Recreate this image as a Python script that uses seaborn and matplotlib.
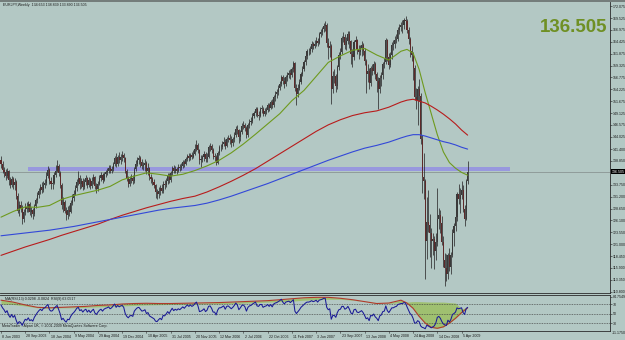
import numpy as np
import pandas as pd
import matplotlib
matplotlib.use("Agg")
import matplotlib.pyplot as plt
import matplotlib.transforms as mtransforms
from matplotlib.patches import Rectangle
from matplotlib.lines import Line2D
import seaborn as sns

# ---------------- data (EURJPY weekly, 8 Jun 2003 .. 3 May 2009) ----------------
closes = [
    138.2, 137.0, 136.5, 135.6, 136.6, 134.8, 133.8, 135.0, 133.6, 134.4,
    131.4, 128.2, 129.4, 128.8, 126.4, 127.8, 129.0, 128.5, 129.6, 127.9,
    128.3, 127.5, 129.2, 130.4, 131.5, 132.4, 133.2, 132.6, 133.8, 134.1,
    135.6, 136.9, 134.6, 133.9, 134.2, 135.8, 136.8, 137.8, 136.2, 133.8,
    129.4, 130.0, 128.2, 127.2, 128.4, 128.0, 129.8, 130.9, 131.8, 133.0,
    134.4, 135.2, 133.9, 134.5, 133.2, 134.3, 135.1, 133.6, 134.8, 133.5,
    134.6, 135.4, 133.5, 132.8, 134.0, 135.2, 135.8, 134.8, 136.0, 136.4,
    136.8, 137.4, 136.7, 137.2, 138.2, 139.4, 138.2, 139.6, 139.0, 139.8,
    140.1, 139.4, 136.8, 135.2, 134.0, 135.0, 135.2, 134.6, 137.2, 138.3,
    139.0, 139.4, 138.6, 137.7, 137.9, 138.5, 136.8, 137.3, 135.4, 134.9,
    134.3, 133.6, 132.2, 131.8, 132.5, 133.0, 132.4, 134.0, 133.8, 134.6,
    135.6, 134.8, 136.2, 137.4, 136.6, 137.2, 136.8, 137.6, 137.3, 137.8,
    138.6, 138.2, 139.2, 139.9, 139.5, 140.2, 139.8, 140.4, 141.5, 142.3,
    141.2, 139.0, 139.2, 139.6, 140.4, 139.2, 139.8, 141.8, 142.0, 141.3,
    139.8, 139.7, 138.5, 140.5, 141.8, 141.9, 142.6, 143.0, 142.0, 143.5,
    143.7, 143.3, 142.8, 143.5, 144.4, 145.8, 145.4, 143.9, 145.0, 146.4,
    146.6, 146.0, 144.5, 146.5, 147.2, 147.5, 148.6, 149.1, 150.0, 148.8,
    148.6, 150.0, 150.0, 149.0, 149.5, 149.8, 150.8, 150.2, 151.5, 150.8,
    152.5, 153.2, 153.6, 154.6, 155.4, 156.8, 156.0, 155.4, 156.8, 157.2,
    157.7, 157.3, 158.5, 159.8, 154.5, 153.2, 154.5, 155.8, 157.5, 158.6,
    160.0, 161.4, 162.4, 162.4, 162.8, 163.9, 163.6, 164.0, 164.7, 164.2,
    166.0, 166.5, 167.1, 167.9, 168.0, 164.2, 163.0, 163.5, 154.4, 157.0,
    157.0, 155.0, 159.0, 161.7, 162.3, 165.2, 165.5, 163.7, 164.6, 166.2,
    164.5, 161.8, 161.2, 164.3, 164.8, 162.8, 162.3, 163.0, 163.7, 162.5,
    160.3, 157.6, 158.1, 155.5, 158.8, 158.2, 159.7, 157.5, 156.0, 154.2,
    156.6, 157.2, 159.6, 160.0, 164.8, 161.1, 159.5, 161.5, 163.8, 163.9,
    164.9, 165.1, 167.0, 167.5, 168.0, 168.0, 169.0, 168.9, 167.0, 165.0,
    162.5, 161.5, 158.9, 152.5, 152.0, 154.2, 152.8, 143.5, 135.5, 134.5,
    121.6, 125.8, 125.2, 123.5, 121.6, 122.2, 119.5, 121.4, 126.4, 127.2,
    125.6, 121.5, 117.7, 115.9, 114.6, 118.6, 116.0, 118.7, 123.5, 124.8,
    126.8, 131.8, 130.8, 131.6, 132.6, 128.5, 126.5, 134.65, 136.505]
highs = [
    140.0, 138.8, 137.6, 137.2, 137.3, 137.0, 135.5, 135.7, 135.4, 135.3,
    134.8, 131.9, 130.3, 130.2, 129.4, 128.6, 129.8, 130.1, 130.3, 130.0,
    129.0, 128.8, 129.7, 130.9, 132.2, 133.0, 134.0, 134.3, 134.6, 135.0,
    136.5, 137.7, 137.3, 135.4, 135.0, 136.4, 138.0, 139.1, 138.3, 136.8,
    134.2, 131.1, 130.5, 128.9, 129.1, 129.3, 130.4, 131.7, 132.6, 133.7,
    135.0, 136.6, 135.8, 135.3, 135.1, 134.9, 135.8, 135.5, 135.4, 135.1,
    135.4, 136.1, 135.7, 134.2, 134.6, 135.8, 136.5, 136.2, 136.5, 137.0,
    137.4, 138.0, 137.9, 137.8, 138.7, 140.0, 140.6, 140.2, 140.7, 140.3,
    141.1, 140.6, 139.7, 137.1, 135.7, 135.6, 136.0, 135.8, 137.6, 139.0,
    139.7, 140.1, 139.9, 139.2, 138.6, 139.2, 138.9, 138.4, 137.5, 136.1,
    135.5, 135.0, 134.0, 132.9, 133.3, 133.6, 134.0, 134.6, 134.8, 135.3,
    136.2, 136.2, 136.6, 137.7, 137.9, 137.8, 137.5, 138.1, 138.3, 138.4,
    139.0, 139.0, 139.6, 140.3, 140.5, 140.6, 140.7, 141.2, 142.4, 143.3,
    142.7, 141.4, 140.1, 140.2, 141.0, 140.8, 140.5, 142.2, 142.8, 142.5,
    141.7, 140.6, 140.1, 141.0, 142.3, 142.6, 143.2, 143.9, 143.5, 144.0,
    144.5, 144.6, 144.2, 144.1, 145.0, 146.4, 146.6, 145.8, 145.6, 146.9,
    147.4, 147.0, 146.4, 147.0, 147.8, 148.2, 149.1, 149.6, 150.5, 150.4,
    149.5, 150.4, 150.8, 150.4, 150.2, 150.4, 151.3, 151.2, 152.0, 152.1,
    153.0, 153.8, 154.2, 155.2, 156.0, 157.3, 157.2, 156.8, 157.3, 157.9,
    158.4, 158.5, 159.0, 160.3, 160.2, 155.4, 155.3, 156.4, 158.0, 159.2,
    160.6, 161.9, 162.9, 163.2, 163.6, 164.5, 164.4, 164.8, 165.4, 165.3,
    166.6, 167.2, 167.7, 168.5, 168.9, 168.4, 165.2, 164.6, 163.9, 158.2,
    158.5, 157.6, 159.5, 162.2, 163.2, 165.7, 166.6, 166.0, 165.4, 166.8,
    166.8, 164.9, 162.8, 164.9, 165.6, 165.0, 163.8, 163.8, 164.5, 164.2,
    163.0, 160.8, 159.6, 158.8, 159.2, 159.6, 160.3, 160.0, 158.0, 156.8,
    157.4, 157.9, 160.2, 161.0, 165.2, 165.1, 162.0, 162.2, 164.3, 164.8,
    165.6, 166.0, 167.6, 168.2, 168.7, 169.0, 169.6, 170.0, 169.3, 167.5,
    165.4, 163.6, 162.3, 159.4, 154.6, 155.0, 156.4, 153.4, 144.4, 140.5,
    135.0, 131.2, 132.6, 127.4, 124.4, 123.4, 122.8, 123.4, 133.0, 128.8,
    128.4, 127.0, 122.8, 119.2, 118.8, 119.2, 120.2, 119.4, 124.2, 125.6,
    128.0, 132.2, 134.0, 133.0, 134.6, 133.6, 129.4, 135.0, 138.839]
lows = [
    137.4, 136.3, 135.5, 134.8, 135.1, 133.8, 133.0, 133.2, 132.9, 132.7,
    130.8, 127.6, 127.1, 128.0, 125.4, 125.8, 127.2, 127.9, 128.0, 127.3,
    126.8, 126.3, 127.1, 128.7, 129.9, 131.0, 131.7, 132.0, 132.3, 133.1,
    133.8, 135.2, 134.0, 132.8, 132.9, 133.9, 135.4, 136.4, 135.6, 133.0,
    128.6, 127.9, 127.6, 126.1, 126.5, 127.0, 127.6, 129.3, 130.2, 131.5,
    132.4, 133.8, 132.8, 133.1, 132.7, 132.8, 133.7, 133.0, 133.2, 132.9,
    133.0, 134.0, 132.9, 132.0, 132.4, 133.6, 134.6, 134.2, 134.5, 135.4,
    135.8, 136.3, 136.2, 136.2, 136.8, 137.8, 137.6, 137.8, 138.4, 138.1,
    138.9, 138.6, 136.2, 134.6, 133.2, 133.4, 134.1, 133.9, 134.2, 136.6,
    137.8, 138.2, 137.6, 137.1, 136.9, 136.8, 136.0, 135.9, 134.8, 134.1,
    133.7, 133.0, 131.0, 130.8, 131.0, 131.6, 131.9, 132.0, 132.9, 133.2,
    134.0, 134.1, 134.4, 135.9, 136.2, 136.3, 136.0, 136.5, 136.8, 136.9,
    137.4, 137.6, 137.9, 138.9, 138.9, 139.0, 139.2, 139.5, 140.2, 141.0,
    140.5, 138.2, 137.6, 138.6, 138.9, 138.6, 138.7, 139.5, 141.0, 140.6,
    139.2, 138.9, 137.9, 138.2, 140.1, 141.0, 141.5, 142.0, 141.4, 141.8,
    142.9, 142.6, 141.9, 142.0, 143.0, 144.0, 144.6, 142.8, 143.2, 144.6,
    145.8, 145.2, 143.8, 144.1, 146.0, 146.6, 147.0, 148.0, 148.6, 148.2,
    147.6, 148.2, 149.2, 148.4, 148.6, 148.9, 149.4, 149.5, 149.9, 150.2,
    150.4, 151.8, 152.4, 153.0, 154.1, 155.0, 155.3, 154.5, 155.0, 156.0,
    156.6, 156.4, 156.9, 158.0, 153.8, 150.9, 152.5, 154.0, 155.3, 157.0,
    158.2, 159.5, 160.8, 161.6, 161.8, 162.3, 162.8, 163.0, 163.6, 163.5,
    163.9, 165.5, 165.9, 166.6, 166.8, 163.4, 160.8, 161.2, 151.0, 153.4,
    155.6, 153.6, 154.4, 158.3, 160.8, 161.8, 164.4, 162.8, 162.6, 164.0,
    163.2, 159.6, 159.0, 160.6, 163.4, 161.9, 160.8, 161.6, 161.4, 161.5,
    159.4, 153.4, 155.8, 154.3, 154.9, 157.2, 157.6, 156.4, 153.6, 150.0,
    153.4, 154.9, 156.4, 158.8, 159.6, 160.4, 158.6, 159.1, 160.8, 162.6,
    163.2, 164.1, 164.7, 166.2, 166.8, 166.4, 167.2, 167.6, 166.3, 163.9,
    161.2, 160.4, 156.3, 152.0, 150.0, 146.5, 151.8, 142.6, 132.0, 130.6,
    113.6, 117.8, 123.6, 118.2, 115.8, 118.6, 115.7, 117.6, 120.6, 124.2,
    123.4, 120.8, 116.0, 112.1, 113.2, 113.6, 115.2, 114.6, 118.2, 120.6,
    123.8, 125.9, 129.6, 127.6, 130.8, 127.8, 124.9, 126.2, 133.890]
first_open = 139.0

# moving averages read at sample bars
ma_idx = [0, 8, 16, 24, 32, 40, 48, 56, 64, 72, 80, 88, 96, 104, 112, 120, 128,
          136, 144, 152, 160, 168, 176, 184, 192, 200, 208, 216, 224, 232, 240,
          248, 256, 264, 268, 272, 276, 280, 284, 288, 292, 296, 300, 304, 308]
ma_green = [126.8, 128.0, 129.0, 128.9, 129.3, 130.6, 131.4, 132.0, 132.6, 133.4,
            134.8, 135.6, 136.3, 136.0, 135.6, 136.0, 136.8, 137.8, 139.0, 140.6,
            142.5, 144.6, 146.8, 149.0, 151.8, 154.0, 157.0, 160.0, 161.4, 162.6,
            163.0, 161.6, 160.5, 162.4, 162.8, 162.0, 158.5, 153.5, 149.0, 144.5,
            140.8, 138.5, 137.3, 136.4, 135.8]
ma_red = [118.6, 119.5, 120.4, 121.2, 122.0, 122.9, 123.7, 124.5, 125.3, 126.3,
          127.2, 128.0, 128.8, 129.5, 130.2, 130.8, 131.3, 132.2, 133.3, 134.5,
          135.8, 137.2, 138.8, 140.4, 142.0, 143.6, 145.2, 146.6, 147.7, 148.6,
          149.2, 149.6, 150.4, 151.5, 151.9, 152.1, 151.7, 151.3, 150.6, 149.8,
          148.9, 147.9, 146.8, 145.5, 144.4]
ma_blue = [122.8, 123.1, 123.4, 123.7, 124.0, 124.4, 124.8, 125.3, 125.8, 126.3,
           126.8, 127.3, 127.8, 128.3, 128.7, 129.0, 129.3, 129.8, 130.5, 131.3,
           132.2, 133.1, 134.0, 135.0, 136.0, 137.0, 138.0, 139.0, 139.9, 140.8,
           141.6, 142.2, 142.9, 143.8, 144.2, 144.5, 144.5, 144.2, 143.8, 143.4,
           143.0, 142.7, 142.3, 141.8, 141.4]

rsi = [
    68, 62, 58, 52, 56, 47, 42, 48, 42, 46,
    36, 28, 33, 31, 25, 32, 38, 36, 41, 35,
    37, 34, 42, 47, 52, 56, 59, 56, 61, 62,
    66, 69, 58, 55, 56, 61, 64, 67, 59, 50,
    37, 40, 35, 32, 38, 37, 44, 49, 52, 56,
    61, 63, 56, 58, 53, 57, 59, 53, 57, 52,
    56, 59, 51, 48, 53, 57, 59, 55, 59, 61,
    62, 64, 60, 62, 66, 70, 63, 67, 64, 66,
    67, 63, 50, 44, 41, 45, 46, 44, 55, 59,
    62, 63, 59, 55, 56, 58, 50, 52, 45, 43,
    41, 39, 34, 33, 37, 40, 37, 46, 45, 49,
    54, 50, 56, 61, 56, 59, 57, 60, 58, 61,
    64, 61, 65, 68, 65, 68, 65, 67, 71, 74,
    66, 54, 55, 57, 60, 54, 57, 65, 66, 61,
    53, 53, 47, 57, 62, 62, 64, 66, 59, 65,
    66, 63, 60, 63, 67, 72, 68, 58, 62, 67,
    68, 64, 55, 63, 66, 67, 70, 72, 74, 66,
    65, 69, 69, 63, 65, 66, 69, 65, 69, 64,
    70, 72, 73, 75, 77, 80, 74, 70, 74, 75,
    76, 73, 76, 79, 55, 50, 54, 58, 63, 66,
    69, 72, 74, 74, 75, 77, 75, 76, 78, 74,
    78, 79, 80, 82, 82, 63, 58, 60, 38, 46,
    46, 42, 52, 58, 59, 65, 65, 59, 61, 65,
    59, 51, 49, 58, 59, 53, 52, 54, 56, 52,
    46, 39, 41, 35, 46, 45, 49, 43, 40, 35,
    45, 47, 54, 55, 66, 56, 52, 57, 62, 62,
    64, 65, 69, 70, 71, 71, 73, 72, 64, 57,
    50, 47, 40, 30, 30, 35, 33, 24, 21, 20,
    18, 25, 24, 22, 20, 22, 24, 30, 42, 44,
    40, 33, 28, 26, 25, 36, 32, 38, 48, 50,
    53, 62, 60, 61, 62, 52, 48, 60, 63]
sig_idx = [0, 8, 16, 24, 32, 40, 48, 56, 64, 72, 80, 88, 96, 104, 112, 120, 128,
           136, 144, 152, 160, 168, 176, 184, 192, 200, 208, 216, 224, 232, 240,
           248, 256, 264, 268, 272, 276, 280, 284, 288, 292, 296, 300, 304, 308]
sig_red = [78, 74, 68, 63, 62, 63, 64, 65, 67, 68, 70, 71, 71.5, 71, 71, 71.5, 72,
           72.5, 73, 74, 75, 76, 77, 79, 81, 83, 84, 84, 82, 79, 75, 71, 72, 78,
           72, 61, 44, 30, 21, 19, 22, 30, 40, 52, 62]
sig_slow = [70, 69, 66, 62, 61, 62, 62, 63, 64, 65, 66, 67, 68, 68.5, 69, 69, 69.5,
            70, 70.5, 71, 72, 73, 74, 75, 76, 78, 79, 80, 80, 78, 75, 72, 71, 73,
            74, 75, 75, 74.5, 74, 74, 74, 73, 72, 60, 62]

price_ticks = [110.800, 113.350, 115.900, 118.450, 121.000, 123.550, 126.100,
               128.650, 131.200, 133.750, 138.850, 141.400, 144.025, 146.575,
               149.125, 151.675, 154.225, 156.775, 159.325, 161.875, 164.425,
               166.975, 169.525, 172.075]
last_price = 136.505
band_lo, band_hi = 136.77, 137.62
date_labels = ["8 Jun 2003", "28 Sep 2003", "18 Jan 2004", "9 May 2004",
               "29 Aug 2004", "19 Dec 2004", "10 Apr 2005", "31 Jul 2005",
               "20 Nov 2005", "12 Mar 2006", "2 Jul 2006", "22 Oct 2006",
               "11 Feb 2007", "3 Jun 2007", "23 Sep 2007", "13 Jan 2008",
               "4 May 2008", "24 Aug 2008", "14 Dec 2008", "5 Apr 2009"]
date_idx = list(range(0, 305, 16))
header = "EURJPY,Weekly  134.653 138.839 133.890 136.505"
rsi_header = "MA(RSI,13) 0.0298 -0.0824  RSI(9) 63.0517"
footer = "MetaTrader - Alpari UK, \u00a9 2001-2009 MetaQuotes Software Corp."

assert len(closes) == len(highs) == len(lows) == len(rsi) == 309

# ---------------- style ----------------
sns.set_theme(style="white")
plt.rcParams["font.family"] = ["Liberation Sans", "DejaVu Sans"]
BG = "#b3c8c4"
TXT = "#1a1a1a"
FS = 2.6
W, H = 625, 340
fig = plt.figure(figsize=(W / 100, H / 100), dpi=100, facecolor=BG)


def fx(px):
    return px / W


def fy(py):
    return 1 - py / H


n = len(closes)
idx = np.arange(n)
opens = np.array([first_open] + closes[:-1])
c = np.array(closes)
xl = (-0.66, 401.98)

# ---------------- main panel ----------------
ax = fig.add_axes([0, fy(293), fx(610), (293 - 2) / H])
ax.set_facecolor(BG)
ax.set_xlim(*xl)
ax.set_ylim(110.52, 172.97)

ax.add_patch(Rectangle((17.8, band_lo), 336 - 17.8, band_hi - band_lo,
                       facecolor="#9898de", edgecolor="none", zorder=1))
ax.axhline(last_price, color="#8a9593", lw=0.6, zorder=1)

up = c >= opens
ax.vlines(idx, lows, highs, color="#2e2e2e", lw=0.55, zorder=3)
body_lo = np.minimum(opens, c)
body_h = np.maximum(np.abs(c - opens), 0.12)
ax.bar(idx[up], body_h[up], bottom=body_lo[up], width=0.7,
       color="#3a3a3a", linewidth=0, zorder=4)
ax.bar(idx[~up], body_h[~up], bottom=body_lo[~up], width=0.7,
       color="#5e2a2a", linewidth=0, zorder=4)

ma = pd.DataFrame({"bar": ma_idx, "green": ma_green, "red": ma_red, "blue": ma_blue})
sns.lineplot(data=ma, x="bar", y="green", ax=ax, color="#6e9a1e", lw=0.8, zorder=5)
sns.lineplot(data=ma, x="bar", y="red", ax=ax, color="#b81c1c", lw=0.8, zorder=5)
sns.lineplot(data=ma, x="bar", y="blue", ax=ax, color="#3348d8", lw=0.8, zorder=5)

ax.yaxis.tick_right()
ax.set_yticks(price_ticks)
ax.set_yticklabels([f"{v:.3f}" for v in price_ticks], fontsize=FS, color=TXT)
ax.tick_params(axis="y", length=1.5, width=0.4, pad=0.8, colors=TXT)
ax.set_xticks([])
ax.set_xlabel("")
ax.set_ylabel("")
for s in ["top", "left"]:
    ax.spines[s].set_visible(False)
for s in ["right", "bottom"]:
    ax.spines[s].set_color("#2a2a2a")
    ax.spines[s].set_linewidth(0.6)

tr = mtransforms.blended_transform_factory(ax.transAxes, ax.transData)
ax.text(1.003, last_price, f"{last_price:.3f}", transform=tr, fontsize=FS,
        color="white", va="center", ha="left",
        bbox=dict(boxstyle="square,pad=0.12", fc="black", ec="none"), zorder=10)

# ---------------- oscillator panel ----------------
ax2 = fig.add_axes([0, fy(331), fx(610), (331 - 295) / H])
ax2.set_facecolor(BG)
ax2.set_xlim(*xl)
ax2.set_ylim(13.3, 88.9)
sig = pd.DataFrame({"bar": sig_idx, "red": sig_red, "slow": sig_slow})
ax2.fill_between(sig["bar"], sig["red"], sig["slow"], color="#9fc070",
                 lw=0, zorder=1)
for lv in [70, 50, 30]:
    ax2.axhline(lv, color="#3c3c3c", lw=0.5, ls=(0, (1.2, 1.2)), zorder=2)
sns.lineplot(data=sig, x="bar", y="red", ax=ax2, color="#b03a2a", lw=0.8, zorder=3)
osc = pd.DataFrame({"bar": idx, "rsi": rsi})
sns.lineplot(data=osc, x="bar", y="rsi", ax=ax2, color="#1a1a96", lw=0.75,
             zorder=4, estimator=None)
ax2.yaxis.tick_right()
ax2.set_yticks([84.75, 70, 50, 30])
ax2.set_yticklabels(["84.7549", "70", "50", "30"], fontsize=FS, color=TXT)
ax2.tick_params(axis="y", length=1.5, width=0.4, pad=0.8, colors=TXT)
ax2.set_xticks([])
ax2.set_xlabel("")
ax2.set_ylabel("")
ax2.spines["left"].set_visible(False)
for s in ["right", "bottom", "top"]:
    ax2.spines[s].set_color("#2a2a2a")
    ax2.spines[s].set_linewidth(0.6)
fig.text(fx(612), fy(332.5), "-11.1750", fontsize=FS, color=TXT, va="center")

# date labels
trd = mtransforms.blended_transform_factory(ax2.transData, fig.transFigure)
for i, lab in zip(date_idx, date_labels):
    fig.text(i + 0.8, fy(336.5), lab, transform=trd, fontsize=FS, color=TXT,
             va="center", ha="left")
    fig.lines.append(Line2D([i, i], [fy(331), fy(333)], transform=trd,
                            color="#2a2a2a", lw=0.4))

# texts
fig.text(fx(3), fy(5), header, fontsize=FS, color=TXT, va="center")
fig.text(fx(5), fy(299), rsi_header, fontsize=FS, color=TXT, va="center")
fig.text(fx(2), fy(325.5), footer, fontsize=FS, color=TXT, va="center")
fig.text(fx(540), fy(28), f"{last_price:.3f}", fontsize=13.5, fontweight="bold",
         color="#6f9024", va="center", ha="left")

# window top frame
fig.patches.append(Rectangle((0, fy(1.6)), 1, 1 - fy(1.6), transform=fig.transFigure,
                             facecolor="#747d7b", edgecolor="none"))

fig.savefig("out.png", dpi=100, facecolor=BG)
